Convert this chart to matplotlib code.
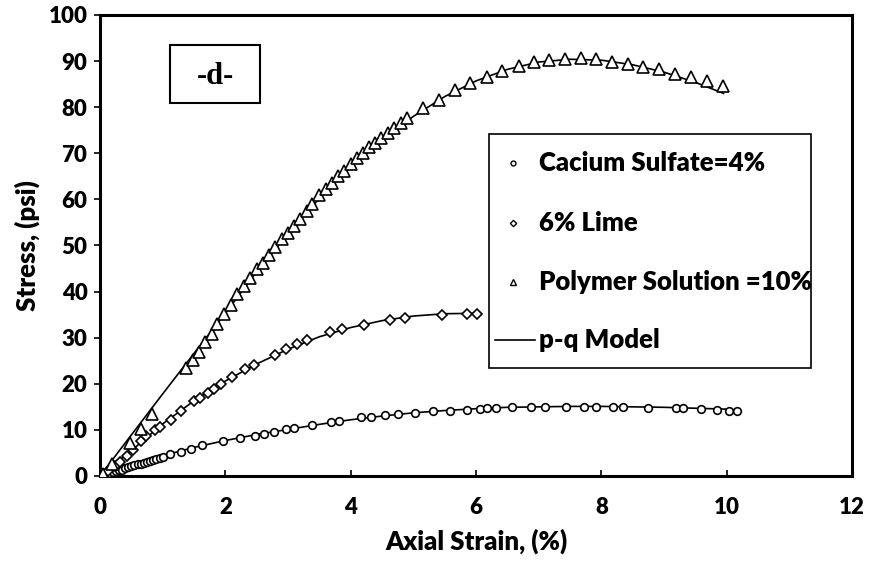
import matplotlib
matplotlib.use('Agg')
import matplotlib.pyplot as plt
from matplotlib.patches import Rectangle

plt.rcParams['font.family'] = ['Lato', 'DejaVu Sans']
plt.rcParams['font.weight'] = 'bold'

# Calcium sulfate = 4%
ca_x = [0, 0.05, 0.1, 0.15, 0.2, 0.25, 0.3, 0.35, 0.4, 0.45, 0.5, 0.55, 0.6, 0.65,
        0.7, 0.75, 0.8, 0.85, 0.9, 0.95, 1.0, 1.12, 1.30, 1.46, 1.62, 1.97, 2.23,
        2.47, 2.61, 2.77, 2.97, 3.10, 3.38, 3.68, 3.82, 4.16, 4.32, 4.54, 4.76,
        5.02, 5.32, 5.58, 5.85, 6.06, 6.18, 6.32, 6.58, 6.87, 7.10, 7.44, 7.72,
        7.92, 8.18, 8.35, 8.75, 9.19, 9.31, 9.59, 9.84, 10.04, 10.16]
ca_y = [0, 0.2, 0.4, 0.6, 0.8, 1.0, 1.2, 1.4, 1.7, 1.9, 2.1, 2.3, 2.5, 2.7,
        2.9, 3.1, 3.3, 3.5, 3.7, 3.9, 4.1, 4.8, 5.3, 5.8, 6.8, 7.7, 8.2,
        8.7, 9.1, 9.6, 10.1, 10.4, 11.1, 11.7, 12.0, 12.7, 12.9, 13.2, 13.4,
        13.7, 14.0, 14.2, 14.4, 14.6, 14.7, 14.8, 14.9, 14.9, 14.9, 14.9, 14.9,
        14.9, 14.9, 14.9, 14.8, 14.8, 14.8, 14.6, 14.4, 14.2, 14.0]

# 6% lime
lime_x = [0, 0.13, 0.24, 0.32, 0.43, 0.53, 0.66, 0.74, 0.87, 0.96, 1.13, 1.30,
          1.50, 1.60, 1.73, 1.82, 1.93, 2.10, 2.31, 2.46, 2.79, 2.97, 3.14, 3.31,
          3.67, 3.86, 4.21, 4.63, 4.87, 5.45, 5.85, 6.01]
lime_y = [0, 1.1, 2.2, 3.1, 4.3, 5.6, 7.5, 8.7, 9.9, 10.7, 12.1, 14.0,
          16.3, 17.0, 18.1, 18.8, 19.9, 21.5, 23.2, 24.1, 26.3, 27.5, 28.6, 29.5,
          31.2, 31.9, 32.8, 33.8, 34.3, 35.0, 35.1, 35.1]

# Polymer solution = 10%
poly_x = [0, 0.05, 0.19, 0.48, 0.66, 0.83, 1.37, 1.48, 1.58, 1.68, 1.78, 1.87,
          1.98, 2.09, 2.18, 2.30, 2.39, 2.50, 2.60, 2.70, 2.79, 2.90, 3.00, 3.10,
          3.19, 3.30, 3.39, 3.50, 3.60, 3.70, 3.80, 3.89, 4.00, 4.10, 4.19, 4.29,
          4.39, 4.49, 4.59, 4.69, 4.80, 4.90, 5.16, 5.41, 5.66, 5.91, 6.17, 6.42,
          6.68, 6.93, 7.17, 7.42, 7.67, 7.92, 8.17, 8.42, 8.67, 8.92, 9.18, 9.43,
          9.68, 9.94]
poly_y = [0, 0.5, 2.6, 7.2, 10.2, 13.5, 23.5, 25.2, 27.0, 29.0, 30.9, 33.0,
          35.2, 37.2, 39.4, 41.3, 43.0, 45.0, 46.3, 48.0, 49.6, 51.5, 52.8, 54.2,
          55.8, 57.4, 59.1, 60.9, 62.2, 63.5, 65.0, 66.1, 67.6, 68.9, 70.0, 71.3,
          72.2, 73.3, 74.3, 75.4, 76.5, 77.6, 79.8, 81.5, 83.7, 85.3, 86.5, 87.8,
          88.9, 89.8, 90.2, 90.4, 90.6, 90.4, 89.7, 89.3, 88.8, 88.3, 87.3, 86.5,
          85.7, 84.6]

# p-q model curves
ca_mx = [0, 0.5, 1, 1.5, 2, 2.5, 3, 3.5, 4, 4.5, 5, 5.5, 6, 6.5, 7, 7.5, 8,
         8.5, 9, 9.5, 10, 10.1]
ca_my = [0, 2.3, 4.4, 6.2, 7.7, 9.0, 10.1, 11.2, 12.2, 13.0, 13.7, 14.2, 14.6,
         14.9, 15.0, 15.1, 15.1, 15.0, 14.9, 14.7, 14.5, 14.4]
lime_mx = [0, 0.5, 1, 1.5, 2, 2.5, 3, 3.5, 4, 4.5, 5, 5.5, 6]
lime_my = [0, 5.5, 11.3, 16.3, 20.6, 24.3, 27.5, 30.2, 32.2, 33.7, 34.7, 35.2, 35.3]
poly_mx = [0, 0.5, 1, 1.5, 2, 2.5, 3, 3.5, 4, 4.5, 5, 5.5, 6, 6.5, 7, 7.5, 8,
           8.5, 9, 9.5, 9.95]
poly_my = [0, 8.9, 17.8, 26.6, 35.3, 44.3, 52.5, 60.2, 67.0, 72.9, 78.0, 82.3,
           85.7, 88.2, 89.8, 90.4, 90.2, 89.2, 87.6, 85.4, 83.0]

labels = ['Cacium Sulfate=4%', '6% Lime', 'Polymer Solution =10%', 'p-q Model']

fig = plt.figure(figsize=(8.82, 5.63), dpi=100)
ax = fig.add_axes([100/882, 1 - 476/563, 752/882, 461/563])

for mx, my in [(ca_mx, ca_my), (lime_mx, lime_my), (poly_mx, poly_my)]:
    ax.plot(mx, my, color='black', lw=1.2, zorder=2)
ax.plot(ca_x, ca_y, 'o', ms=5.5, mfc='white', mec='black', mew=1.2, zorder=3)
ax.plot(lime_x, lime_y, 'D', ms=5, mfc='white', mec='black', mew=1.2, zorder=3)
ax.plot(poly_x, poly_y, '^', ms=9, mfc='white', mec='black', mew=1.2, zorder=3)

ax.set_xlim(0, 12)
ax.set_ylim(0, 100)
ax.set_xticks(range(0, 13, 2))
ax.set_yticks(range(0, 101, 10))
for s in ax.spines.values():
    s.set_linewidth(2.2)
ax.tick_params(axis='x', direction='in', length=4, width=1.2, pad=15, labelsize=16)
ax.tick_params(axis='y', direction='out', length=4, width=1.2, pad=5, labelsize=16)
for t in ax.get_xticklabels() + ax.get_yticklabels():
    t.set_fontweight('heavy')

ax.set_xlabel('Axial Strain, (%)', fontsize=18.5, fontweight='heavy', labelpad=8)
ax.set_ylabel('Stress, (psi)', fontsize=18.5, fontweight='heavy', labelpad=6)

# -d- box
ax.add_patch(Rectangle((0.093, 0.809), 0.12, 0.126, transform=ax.transAxes,
                       fill=False, ec='black', lw=1.5))
ax.text(0.153, 0.866, '-d-', transform=ax.transAxes, ha='center', va='center',
        fontsize=22, fontweight='bold', family='Liberation Serif')

# legend box
ax.add_patch(Rectangle((0.517, 0.234), 0.4285, 0.508, transform=ax.transAxes,
                       fill=False, ec='black', lw=1.2, zorder=4))
rows = [0.679, 0.549, 0.421, 0.295]
ax.plot([0.549], [rows[0]], 'o', ms=3.5, mfc='white', mec='black', mew=1,
        transform=ax.transAxes, clip_on=False)
ax.plot([0.549], [rows[1]], 'D', ms=3.2, mfc='white', mec='black', mew=1,
        transform=ax.transAxes, clip_on=False)
ax.plot([0.549], [rows[2]], '^', ms=5, mfc='white', mec='black', mew=1,
        transform=ax.transAxes, clip_on=False)
ax.plot([0.525, 0.578], [rows[3], rows[3]], color='black', lw=1.2,
        transform=ax.transAxes, clip_on=False)
for lab, yy in zip(labels, rows):
    ax.text(0.584, yy, lab, transform=ax.transAxes, ha='left', va='center',
            fontsize=18.5, fontweight='heavy')

fig.savefig('out.png', dpi=100)
